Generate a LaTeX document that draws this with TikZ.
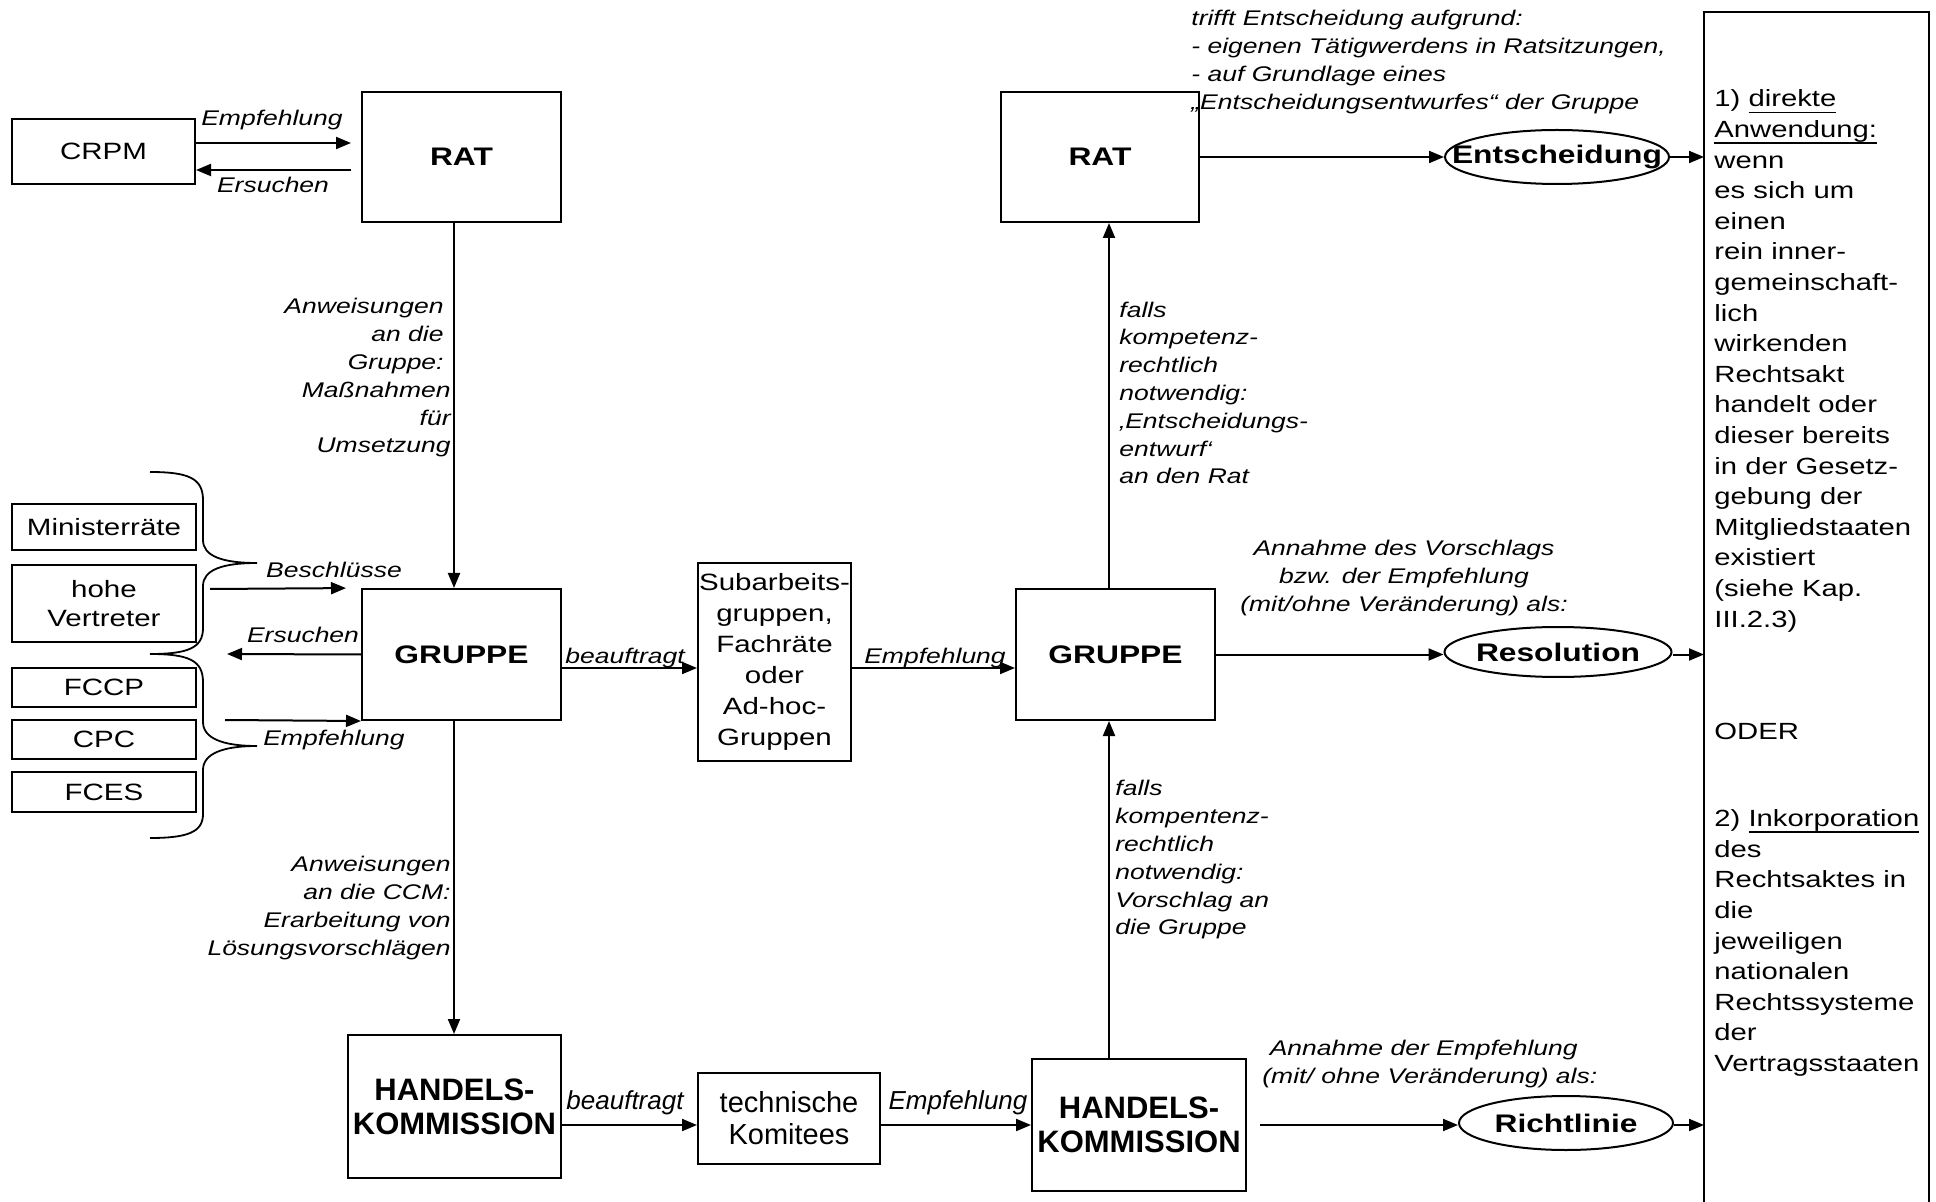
\documentclass[tikz,border=0pt]{standalone}
\usepackage{fontspec}
\setmainfont{Liberation Sans}[FakeStretch=1.25]
\newfontfamily\narrowfont{Liberation Sans}[FakeStretch=1.0]
\usetikzlibrary{arrows.meta,shapes.geometric}

% font settings
\newcommand\fsLab{\fontsize{10.6}{13.9}\selectfont\itshape}
\newcommand\fsNLab{\narrowfont\fontsize{13}{15}\selectfont\itshape}
\newcommand\fsBox{\fontsize{11.8}{14.8}\selectfont}
\newcommand\fsSub{\fontsize{11.8}{15.5}\selectfont}
\newcommand\fsSide{\fontsize{11.7}{15.3}\selectfont}
\newcommand\fsBold{\fontsize{12.7}{15}\selectfont\bfseries}
\newcommand\fsHK{\narrowfont\fontsize{15.5}{17}\selectfont\bfseries}
\newcommand\fsNarrow{\narrowfont\fontsize{14.5}{16}\selectfont}

% underline at a fixed depth below the baseline
\newsavebox\undlbox
\newcommand\undl[1]{\sbox\undlbox{#1}\rlap{\rule[-3pt]{\wd\undlbox}{0.6pt}}\usebox\undlbox}

\tikzset{
  box/.style={draw, line width=1pt, inner sep=0pt, align=center},
  oval/.style={draw, ellipse, line width=1pt, inner sep=0pt, font=\fsBold},
  arr/.style={line width=1pt, -{Triangle[length=7.5pt,width=6pt]}},
  lab/.style={inner sep=0pt, font=\fsLab},
  labn/.style={inner sep=0pt, font=\fsNLab},
  side/.style={inner sep=0pt, font=\fsSide},
  brace/.style={line width=0.9pt},
  sz/.style 2 args={minimum width=#1pt, minimum height=#2pt}
}

\begin{document}
\begin{tikzpicture}[x=0.5pt,y=-0.5pt]
\useasboundingbox (0,0) rectangle (1936,1202);

% boxes
\node[box, sz={91.5}{32.5}, font=\fsBox] (crpm) at (103.5,151.5) {CRPM};
\node[box, sz={99.5}{65}, font=\fsBold] (ratL) at (461.5,157) {RAT};
\node[box, sz={92}{23}, font=\fsBox] (minr) at (104,527) {Ministerräte};
\node[box, sz={92}{38.5}, font=\fsBox] (hv) at (104,603.5) {hohe\\Vertreter};
\node[box, sz={92}{19.5}, font=\fsBox] (fccp) at (104,687.5) {FCCP};
\node[box, sz={92}{19.5}, font=\fsBox] (cpc) at (104,739.5) {CPC};
\node[box, sz={92}{20}, font=\fsBox] (fces) at (104,792) {FCES};
\node[box, sz={99.5}{65.5}, font=\fsBold] (grL) at (461.5,654.5) {GRUPPE};
\node[box, sz={106.5}{71.5}, font=\fsHK] (hkL) at (454.5,1106.5) {HANDELS-\\KOMMISSION};
\node[box, sz={76.5}{99}, font=\fsSub] (sub) at (774.5,662) {Subarbeits-\\gruppen,\\Fachräte\\oder\\Ad-hoc-\\Gruppen};
\node[box, sz={91}{45.5}, font=\fsNarrow] (tk) at (789,1118.5) {technische\\Komitees};
\node[box, sz={99.5}{65.5}, font=\fsBold] (grR) at (1115.5,654.5) {GRUPPE};
\node[box, sz={99}{65}, font=\fsBold] (ratR) at (1100,157) {RAT};
\node[box, sz={107}{66}, font=\fsHK] (hkR) at (1139,1125) {HANDELS-\\KOMMISSION};

% outcomes
\node[oval, minimum width=112pt, minimum height=27pt] (ent) at (1557,157) {\makebox[0pt]{Entscheidung}};
\node[oval, minimum width=113.5pt, minimum height=25pt] (res) at (1558,652) {\makebox[0pt]{Resolution}};
\node[oval, minimum width=107pt, minimum height=27pt] (rl) at (1566,1123) {\makebox[0pt]{Richtlinie}};

% right column frame (open at the bottom)
\draw[line width=1pt] (1704,1202) -- (1704,12) -- (1929,12) -- (1929,1202);
\coordinate (rb) at (1704,0);

% braces grouping the bodies on the left
\draw[brace] (150,472) .. controls (188,472) and (203,478) .. (203,500) -- (203,540)
  .. controls (203,556) and (222,563) .. (257,563)
  .. controls (222,563) and (203,570) .. (203,586) -- (203,628)
  .. controls (203,648) and (188,654) .. (150,654);
\draw[brace] (150,654) .. controls (188,654) and (203,660) .. (203,682) -- (203,722)
  .. controls (203,738) and (222,746) .. (257,746)
  .. controls (222,746) and (203,754) .. (203,770) -- (203,814)
  .. controls (203,832) and (188,838) .. (150,838);

% helper levels
\coordinate (yA) at (0,143);
\coordinate (yB) at (0,170);
\coordinate (xL) at (454,0);
\coordinate (xR) at (1109,0);
\coordinate (yM) at (0,668);
\coordinate (yH) at (0,1125);
\coordinate (yG) at (0,654.5);
\coordinate (bsStart) at (210,589);
\coordinate (erEnd) at (227,654);
\coordinate (emStart) at (225,720);

% connectors
\draw[arr, shorten >=5pt] (crpm.east |- yA) -- (ratL.west |- yA);
\draw[arr, shorten <=5pt] (ratL.west |- yB) -- (crpm.east |- yB);
\draw[arr] (ratL.south -| xL) -- (grL.north -| xL);
\draw[arr] (grL.south -| xL) -- (hkL.north -| xL);
\draw[arr, shorten >=7.5pt] (bsStart) -- (grL.north west);
\draw[arr] (grL.west) -- (erEnd);
\draw[arr] (emStart) -- (grL.south west);
\draw[arr] (grL.east |- yM) -- (sub.west |- yM);
\draw[arr] (sub.east |- yM) -- (grR.west |- yM);
\draw[arr] (grR.north -| xR) -- (ratR.south -| xR);
\draw[arr] (hkR.north -| xR) -- (grR.south -| xR);
\draw[arr] (ratR.east) -- (ent.west);
\draw[arr] (ent.east) -- (ent.east -| rb);
\draw[arr] (grR.east) -- (res.west |- yG);
\draw[arr] (res.east |- yG) -- (rb |- yG);
\draw[arr, shorten <=6.5pt] (hkR.east) -- (rl.west |- yH);
\draw[arr] (rl.east |- yH) -- (rb |- yH);
\draw[arr] (hkL.east |- yH) -- (tk.west |- yH);
\draw[arr] (tk.east |- yH) -- (hkR.west |- yH);

% connector labels
\node[lab] (l1) at (272,120) {Empfehlung};
\node[lab] (l2) at (273,185) {Ersuchen};
\node[lab, anchor=east, align=right] (l3) at (451,378) {Anweisungen\kern3.5pt\\an die\kern3.5pt\\Gruppe:\kern3.5pt\\Maßnahmen\\für\\Umsetzung};
\node[lab] (l4) at (334,570) {Beschlüsse};
\node[lab] (l5) at (303,635) {Ersuchen};
\node[lab] (l6) at (334,740) {Empfehlung};
\node[lab] (l7) at (625,658) {beauftragt};
\node[lab] (l8) at (935,658) {Empfehlung};
\node[lab, anchor=west, align=left] (l9) at (1119,393) {falls\\kompetenz-\\rechtlich\\notwendig:\\‚Entscheidungs-\\entwurf‘\\an den Rat};
\node[lab, anchor=west, align=left] (l10) at (1191,62) {trifft Entscheidung aufgrund:\\- eigenen Tätigwerdens in Ratsitzungen,\\- auf Grundlage eines\\„Entscheidungsentwurfes“ der Gruppe};
\node[lab, align=center] (l11) at (1404,578) {Annahme des Vorschlags\\bzw. der Empfehlung\\(mit/ohne Veränderung) als:};
\node[lab, anchor=west, align=left] (l12) at (1115,860) {falls\\kompentenz-\\rechtlich\\notwendig:\\Vorschlag an\\die Gruppe};
\node[lab, anchor=west, align=left] (l13) at (1262,1064) {\ Annahme der Empfehlung\\(mit/ ohne Veränderung) als:};
\node[labn] (l14) at (625,1103) {beauftragt};
\node[labn] (l15) at (958,1103) {Empfehlung};
\node[lab, anchor=east, align=right] (l16) at (451,908) {Anweisungen\\an die CCM:\\Erarbeitung von\\Lösungsvorschlägen};

% text of the right column
\node[side, anchor=west, align=left] (t1) at (1714,361) {1) \undl{direkte}\\\undl{Anwendung:}\\wenn\\es sich um\\einen\\rein inner-\\gemeinschaft-\\lich\\wirkenden\\Rechtsakt\\handelt oder\\dieser bereits\\in der Gesetz-\\gebung der\\Mitgliedstaaten\\existiert\\(siehe Kap.\\III.2.3)};
\node[side, anchor=west] (t2) at (1714,731) {ODER};
\node[side, anchor=west, align=left] (t3) at (1714,943) {2) \undl{Inkorporation}\\des\\Rechtsaktes in\\die\\jeweiligen\\nationalen\\Rechtssysteme\\der\\Vertragsstaaten};
\end{tikzpicture}
\end{document}
